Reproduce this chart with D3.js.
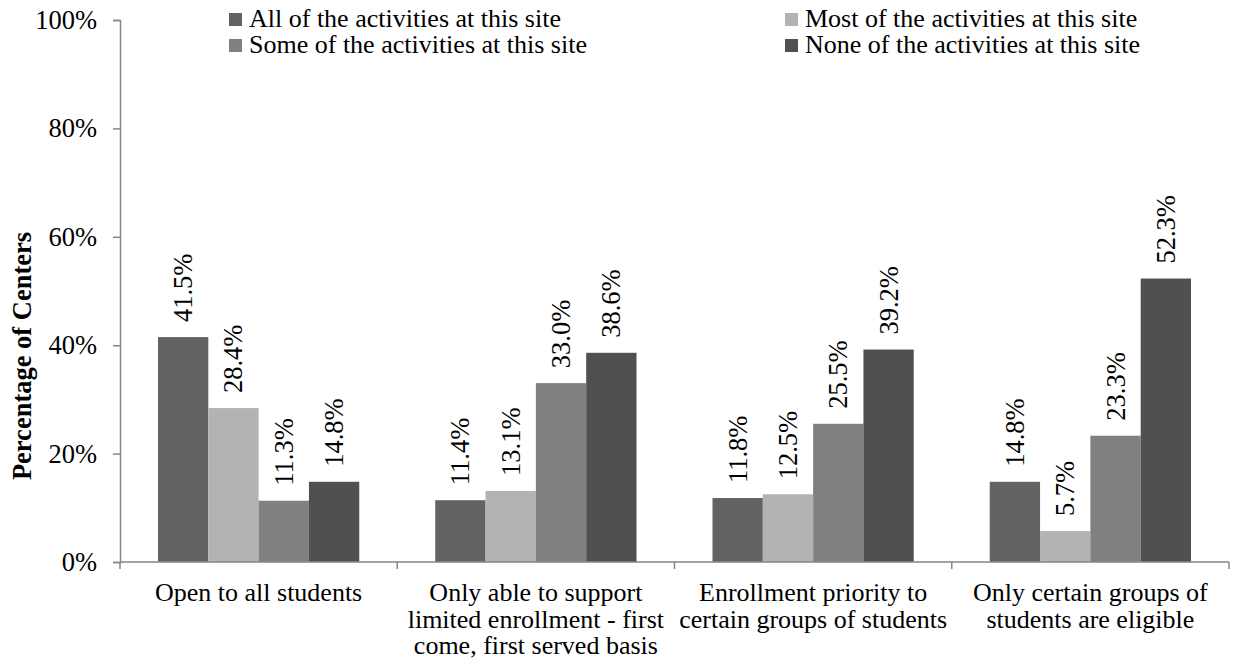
<!DOCTYPE html>
<html>
<head>
<meta charset="utf-8">
<script src="https://cdn.jsdelivr.net/npm/d3@7"></script>
<style>
  html, body { margin: 0; padding: 0; background: #fff; }
  svg { display: block; }
  svg text { font-family: "Liberation Serif", "Times New Roman", serif; }
</style>
</head>
<body>
<svg id="chart" width="1238" height="669"></svg>
<script>
// Categories (each label split into its printed lines)
const categories = [
  "Open to all students",
  "Only able to support limited enrollment - first come, first served basis",
  "Enrollment priority to certain groups of students",
  "Only certain groups of students are eligible"
];
const categoryLines = [
  ["Open to all students"],
  ["Only able to support", "limited enrollment - first", "come, first served basis"],
  ["Enrollment priority to", "certain groups of students"],
  ["Only certain groups of", "students are eligible"]
];

const seriesNames = [
  "All of the activities at this site",
  "Most of the activities at this site",
  "Some of the activities at this site",
  "None of the activities at this site"
];

// Percent of centers per series, in category order
const allValues  = [41.5, 11.4, 11.8, 14.8];
const mostValues = [28.4, 13.1, 12.5, 5.7];
const someValues = [11.3, 33.0, 25.5, 23.3];
const noneValues = [14.8, 38.6, 39.2, 52.3];

const yTicks = [0, 20, 40, 60, 80, 100];

const seriesValues = [allValues, mostValues, someValues, noneValues];
const colors = ["#636363", "#b3b3b3", "#808080", "#505050"];

const FONT = "'Liberation Serif', 'Times New Roman', serif";
const FS = 26.5;       // tick, value and title text
const FS_LABEL = 26;   // category and legend text

const svg = d3.select("#chart");
const plot = { left: 120, right: 1229, top: 20, bottom: 562 };

const x0 = d3.scaleBand()
  .domain(categories)
  .range([plot.left, plot.right])
  .paddingInner(0)
  .paddingOuter(0);

const x1 = d3.scaleBand()
  .domain(seriesNames)
  .range([0, x0.bandwidth()])
  .paddingOuter(0.755)
  .paddingInner(0);

const y = d3.scaleLinear().domain([0, 100]).range([plot.bottom, plot.top]);

const axisColor = "#868686";

// Bars
const groups = svg.append("g").selectAll("g")
  .data(categories)
  .join("g")
  .attr("transform", d => `translate(${x0(d)},0)`);

const cellData = (c, i) => seriesNames.map((s, k) => ({ s, k, v: seriesValues[k][i] }));

groups.selectAll("rect")
  .data(cellData)
  .join("rect")
  .attr("x", d => x1(d.s))
  .attr("width", x1.bandwidth())
  .attr("y", d => y(d.v))
  .attr("height", d => y(0) - y(d.v))
  .attr("fill", d => colors[d.k]);

// Value labels, rotated
groups.selectAll("text.val")
  .data(cellData)
  .join("text")
  .attr("class", "val")
  .attr("transform", d => `translate(${x1(d.s) + x1.bandwidth() / 2 + 9},${y(d.v) - 15}) rotate(-90)`)
  .attr("text-anchor", "start")
  .attr("font-family", FONT)
  .attr("font-size", FS)
  .attr("fill", "#000")
  .text(d => d.v.toFixed(1) + "%");

// Y axis
const yAxis = svg.append("g")
  .attr("transform", `translate(${plot.left},0)`)
  .call(d3.axisLeft(y).tickValues(yTicks).tickFormat(d => d + "%").tickSize(7).tickPadding(16));
yAxis.attr("font-family", FONT).attr("font-size", FS);
yAxis.select(".domain").attr("stroke", axisColor).attr("stroke-width", 1.5);
yAxis.selectAll(".tick line").attr("stroke", axisColor).attr("stroke-width", 1.5);
yAxis.selectAll(".tick text")
  .attr("font-family", FONT)
  .attr("font-size", FS).attr("fill", "#000");

// X axis
const xAxis = svg.append("g")
  .attr("transform", `translate(0,${plot.bottom})`);
xAxis.append("line")
  .attr("x1", plot.left).attr("x2", plot.right)
  .attr("y1", 0).attr("y2", 0)
  .attr("stroke", axisColor).attr("stroke-width", 1.5);
const boundaries = categories.map(c => x0(c)).concat([x0(categories[categories.length - 1]) + x0.bandwidth()]);
xAxis.selectAll("line.tick")
  .data(boundaries)
  .join("line")
  .attr("class", "tick")
  .attr("x1", d => d).attr("x2", d => d)
  .attr("y1", 0).attr("y2", 7)
  .attr("stroke", axisColor).attr("stroke-width", 1.5);

// Category labels
svg.append("g").selectAll("text")
  .data(categories)
  .join("text")
  .attr("x", d => x0(d) + x0.bandwidth() / 2)
  .attr("y", 601)
  .attr("text-anchor", "middle")
  .attr("font-family", FONT)
  .attr("font-size", FS_LABEL)
  .attr("fill", "#000")
  .each(function (d, i) {
    d3.select(this).selectAll("tspan")
      .data(categoryLines[i])
      .join("tspan")
      .attr("x", x0(d) + x0.bandwidth() / 2)
      .attr("dy", (t, j) => j === 0 ? 0 : 26.5)
      .text(t => t);
  });

// Y axis title
svg.append("text")
  .attr("transform", "translate(31,356) rotate(-90)")
  .attr("text-anchor", "middle")
  .attr("font-family", FONT)
  .attr("font-size", FS)
  .attr("font-weight", "bold")
  .attr("fill", "#000")
  .text("Percentage of Centers");

// Legend: two columns, two rows
const legendPos = [
  { x: 229, y: 27 },
  { x: 785, y: 27 },
  { x: 229, y: 53 },
  { x: 785, y: 53 }
];
const legend = svg.append("g").selectAll("g")
  .data(seriesNames)
  .join("g")
  .attr("transform", (d, i) => `translate(${legendPos[i].x},${legendPos[i].y})`);
legend.append("rect")
  .attr("x", 0).attr("y", -14)
  .attr("width", 13).attr("height", 13)
  .attr("fill", (d, i) => colors[i]);
legend.append("text")
  .attr("x", 20).attr("y", 0)
  .attr("font-family", FONT)
  .attr("font-size", FS_LABEL)
  .attr("fill", "#000")
  .text(d => d);
</script>
</body>
</html>
